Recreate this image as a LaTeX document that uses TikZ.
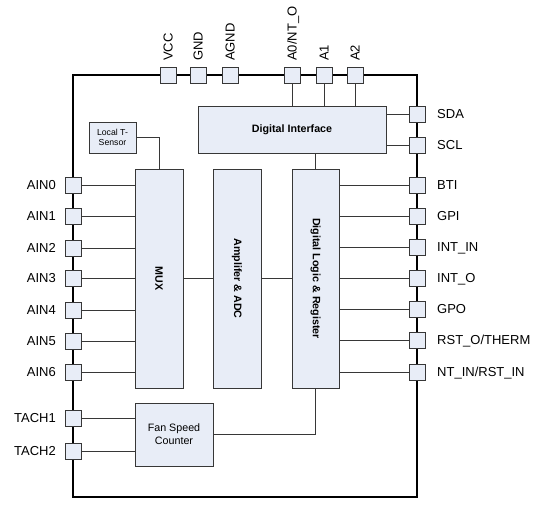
\documentclass[tikz,border=0pt]{standalone}
\usepackage{fontspec}
\setmainfont{Liberation Sans}
\usetikzlibrary{calc}
\definecolor{boxfill}{RGB}{232,237,247}
\definecolor{edge}{RGB}{55,55,55}
\begin{document}
\begin{tikzpicture}[x=1pt,y=-1pt,
  blk/.style={draw=edge,fill=boxfill,line width=0.9pt,inner sep=0pt,align=center},
  bfont/.style={font=\fontsize{10.7}{12}\selectfont\bfseries},
  pinsq/.style={draw=edge,fill=boxfill,line width=0.9pt,minimum size=16pt,inner sep=0pt},
  lbl/.style={font=\fontsize{13}{15}\selectfont,inner sep=0pt,text height=9.3pt,text depth=0pt},
  wire/.style={draw=edge,line width=0.8pt}]
\useasboundingbox (0,0) rectangle (555,507);
% chip outline
\node[draw=black,line width=2pt,minimum width=344pt,minimum height=422pt,inner sep=0pt] (chip) at (245,286) {};
% blocks
\node[blk,bfont,minimum width=188pt,minimum height=47pt] (dint) at (292,129.5) {Digital Interface};
\node[blk,font=\fontsize{8.7}{10.2}\selectfont,minimum width=47pt,minimum height=31pt] (tsens) at (112.5,137.5) {Local T-\\Sensor};
\node[blk,minimum width=48pt,minimum height=219pt] (mux) at (159,278.5) {};
\node[bfont,rotate=-90,inner sep=0pt] (muxt) at (mux.center) {MUX};
\node[blk,minimum width=48pt,minimum height=219pt] (amp) at (237,278.5) {};
\node[bfont,rotate=-90,inner sep=0pt] (ampt) at (amp.center) {Amplifer \& ADC};
\node[blk,minimum width=47pt,minimum height=219pt] (dlr) at (315.5,278.5) {};
\node[bfont,rotate=-90,inner sep=0pt] (dlrt) at (dlr.center) {Digital Logic \& Register};
\node[blk,font=\fontsize{10.7}{13}\selectfont,minimum width=78pt,minimum height=63pt] (fan) at (174,434.5) {Fan Speed\\Counter};
% internal wires
\draw[wire] (tsens.east) -| (mux.north);
\draw[wire] (dlr.north) -- (dlr.north |- dint.south);
\draw[wire] (mux.east) -- (amp.west);
\draw[wire] (amp.east) -- (dlr.west);
\draw[wire] (fan.east) -| (dlr.south);
% top pins
\foreach \n/\t/\x in {vcc/VCC/168,gnd/GND/198,agnd/AGND/230,azero/A0\slash NT\_O/292,aone/A1/324,atwo/A2/355}{
  \node[pinsq] (p\n) at (\x,75) {};
  \node[lbl,rotate=90,anchor=west] (t\n) at (\x,61) {\t};
}
\foreach \n in {azero,aone,atwo}{
  \draw[wire] (p\n.south) -- (p\n.south |- dint.north);
}
% right pins on digital interface
\foreach \n/\t/\y in {sda/SDA/114,scl/SCL/145}{
  \node[pinsq] (p\n) at (417,\y) {};
  \node[lbl,anchor=west] (t\n) at (437,\y) {\t};
  \draw[wire] (p\n.west) -- (p\n.west -| dint.east);
}
% right pins on digital logic
\foreach \n/\t/\y in {bti/BTI/185,gpi/GPI/216,intin/INT\_IN/247,into/INT\_O/278,gpo/GPO/309,rsto/RST\_O\slash THERM/340,ntin/NT\_IN\slash RST\_IN/372}{
  \node[pinsq] (p\n) at (417,\y) {};
  \node[lbl,anchor=west] (t\n) at (437,\y) {\t};
  \draw[wire] (p\n.west) -- (p\n.west -| dlr.east);
}
% left pins on MUX
\foreach \n/\y in {AIN0/185,AIN1/216,AIN2/248,AIN3/278,AIN4/310,AIN5/341,AIN6/372}{
  \node[pinsq] (p\n) at (73,\y) {};
  \node[lbl,anchor=east] (t\n) at (56,\y) {\n};
  \draw[wire] (p\n.east) -- (p\n.east -| mux.west);
}
% tach pins
\foreach \n/\y in {TACH1/418,TACH2/451}{
  \node[pinsq] (p\n) at (73,\y) {};
  \node[lbl,anchor=east] (t\n) at (56,\y) {\n};
  \draw[wire] (p\n.east) -- (p\n.east -| fan.west);
}
\end{tikzpicture}
\end{document}
